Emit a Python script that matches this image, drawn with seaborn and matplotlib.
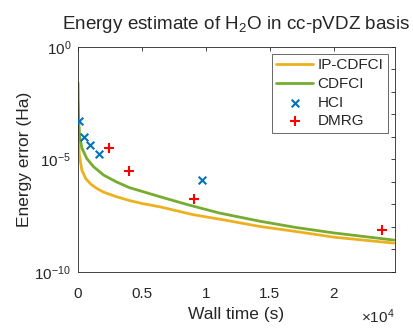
import numpy as np
import pandas as pd
import matplotlib
matplotlib.use("Agg")
import matplotlib.pyplot as plt
import seaborn as sns

# curves (wall time in s, energy error in Ha)
ip_time = [0, 30, 100, 290, 600, 1000, 1500, 2000, 3000, 4000, 5000, 6400, 9000,
           11500, 14200, 17000, 20000, 24700]
ip_err = [3.2e-3, 1e-4, 1.6e-5, 3.4e-6, 1.4e-6, 7.9e-7, 5e-7, 3.5e-7, 2.2e-7, 1.5e-7,
          1.1e-7, 7.8e-8, 3.5e-8, 2e-8, 1.05e-8, 6.3e-9, 3.5e-9, 1.9e-9]

cd_time = [0, 20, 60, 130, 300, 680, 1200, 2000, 3000, 4000, 5000, 6400, 8500, 11000,
           14200, 17000, 20000, 24700]
cd_err = [2.5e-2, 2.5e-3, 4e-4, 1.05e-4, 3.2e-5, 1.1e-5, 4.8e-6, 2e-6, 1e-6, 5.6e-7,
          3.8e-7, 2.2e-7, 1e-7, 4.2e-8, 1.8e-8, 9.5e-9, 5.4e-9, 2.6e-9]

hci_time = [100, 490, 910, 1660, 9690]
hci_err = [5.1e-4, 9.8e-5, 4.3e-5, 1.7e-5, 1.2e-6]

dmrg_time = [2400, 3960, 9040, 23730]
dmrg_err = [3.2e-5, 3.0e-6, 1.7e-7, 7.4e-9]

x_ticks = [0, 5000, 10000, 15000, 20000]
x_labels = ["0", "0.5", "1", "1.5", "2"]

sns.set_style("white")
plt.rcParams["font.family"] = ["Liberation Sans", "DejaVu Sans"]
plt.rcParams["mathtext.default"] = "regular"

fig = plt.figure(figsize=(4.13, 3.28), dpi=100)
ax = fig.add_axes([0.189, 0.171, 0.767, 0.686])

sns.lineplot(x=ip_time, y=ip_err, color="#EDB120", lw=2, label="IP-CDFCI", ax=ax)
sns.lineplot(x=cd_time, y=cd_err, color="#77AC30", lw=2, label="CDFCI", ax=ax)
sns.scatterplot(x=hci_time, y=hci_err, marker="x", color="#0072BD", s=30, linewidth=1.5,
                label="HCI", ax=ax, zorder=5)
sns.scatterplot(x=dmrg_time, y=dmrg_err, marker="+", color="red", s=45, linewidth=1.5,
                label="DMRG", ax=ax, zorder=5)

ax.set_yscale("log")
ax.set_ylim(1e-10, 1)
ax.set_xlim(0, 24770)
ax.set_yticks([1e-10, 1e-9, 1e-8, 1e-7, 1e-6, 1e-5, 1e-4, 1e-3, 1e-2, 1e-1, 1])
ax.set_yticklabels(["10$^{-10}$", "", "", "", "", "10$^{-5}$", "", "", "", "", "10$^{0}$"])
ax.yaxis.set_minor_locator(matplotlib.ticker.NullLocator())
ax.set_xticks(x_ticks)
ax.set_xticklabels(x_labels)
ax.tick_params(direction="in", length=3, width=0.6, color="#262626",
               labelsize=11, top=True, right=True, pad=5)
ax.tick_params(axis="x", pad=11)
for sp in ax.spines.values():
    sp.set_color("#262626")
    sp.set_linewidth(0.6)

ax.set_title("Energy estimate of H$_2$O in cc-pVDZ basis", fontsize=13.6, pad=13)
ax.set_xlabel("Wall time (s)", fontsize=12.5, labelpad=4)
ax.set_ylabel("Energy error (Ha)", fontsize=12.5, labelpad=2)
ax.text(1.0, -0.24, r"$\times$10$^4$", transform=ax.transAxes, ha="right", va="bottom",
        fontsize=11)

leg = ax.legend(loc="upper right", fontsize=11, frameon=True, fancybox=False,
                edgecolor="#262626", borderpad=0.3, labelspacing=0.3,
                handlelength=2.4, handletextpad=0.3, borderaxespad=0.45)
leg.get_frame().set_linewidth(0.6)

fig.savefig("out.png", dpi=100)
